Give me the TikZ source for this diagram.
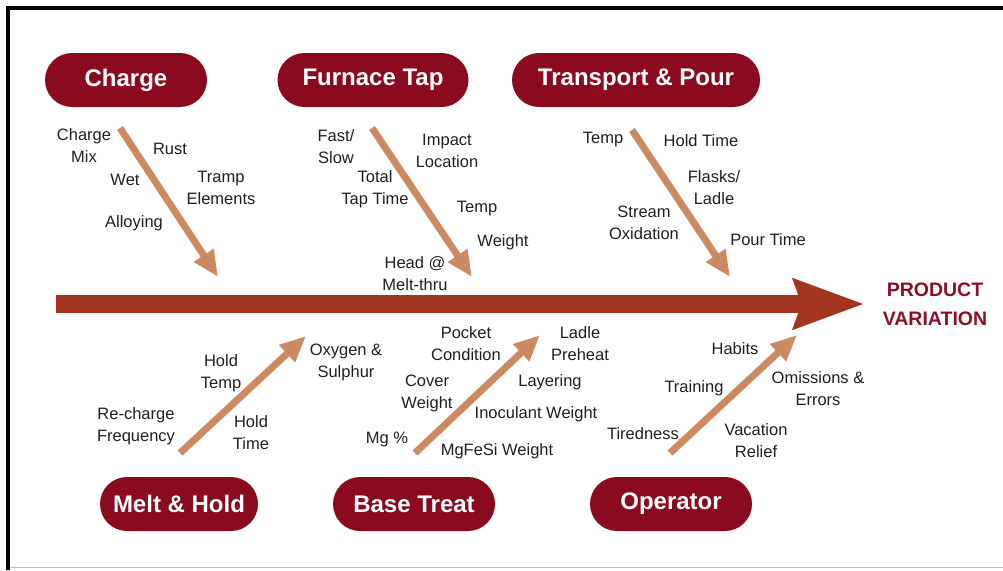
\documentclass[tikz,border=0pt]{standalone}
\usepackage{fontspec}
\setmainfont{Liberation Sans}
\usetikzlibrary{arrows.meta}
\definecolor{boxred}{HTML}{8A0A1E}
\definecolor{spinered}{HTML}{A2361F}
\definecolor{bonetan}{HTML}{CB8A62}
\definecolor{pvred}{HTML}{8E0F25}

\begin{document}
\begin{tikzpicture}[
      x=1pt, y=-1pt,
      font=\fontsize{16.5}{22}\selectfont,
      cat/.style={fill=boxred, text=white, rounded corners=27pt, minimum height=54pt, inner sep=0pt,
                  font=\fontsize{24}{28}\selectfont\bfseries},
      lbl/.style={align=center, inner sep=0pt, text=black!88},
      bone/.style={draw=bonetan, line width=7pt, -{Triangle[length=26pt,width=22pt]}},
      spine/.style={draw=spinered, line width=18pt, -{Stealth[length=70pt,width=48pt,inset=7pt]}}
    ]
    \useasboundingbox (0,0) rectangle (1003,570);
    \draw[line width=4pt] (8,570) -- (8,8) -- (1003,8);
    \draw[black!25, line width=0.8pt] (10,567) -- (1003,567);

    \node[cat, minimum width=162pt] (charge) at (126,80) {Charge};
    \node[cat, minimum width=191pt] (furnace) at (373,80) {Furnace Tap};
    \node[cat, minimum width=248pt] (transport) at (636,80) {Transport \& Pour};
    \node[cat, minimum width=158pt] (melt) at (179,504) {Melt \& Hold};
    \node[cat, minimum width=162pt] (base) at (414,504) {Base Treat};
    \node[cat, minimum width=162pt] (operator) at (671,504) {Operator};

    \node[align=center, inner sep=0pt, text=pvred, font=\fontsize{19.5}{29}\selectfont\bfseries]
      (pv) at (935,304) {PRODUCT\\VARIATION};
    \coordinate (tail) at (56,304);
    \draw[spine] (tail) -- ([xshift=-18pt]pv.west);

    \coordinate (charge-s) at (120,128);
    \coordinate (charge-e) at (218,277);
    \coordinate (furnace-s) at (372,128);
    \coordinate (furnace-e) at (472,277);
    \coordinate (transport-s) at (632,130);
    \coordinate (transport-e) at (730,277);
    \coordinate (melt-s) at (180,453);
    \coordinate (melt-e) at (306,336);
    \coordinate (base-s) at (415,453);
    \coordinate (base-e) at (540,335);
    \coordinate (operator-s) at (670,453);
    \coordinate (operator-e) at (797,335);
    \draw[bone] (charge-s) -- (charge-e);
    \draw[bone] (furnace-s) -- (furnace-e);
    \draw[bone] (transport-s) -- (transport-e);
    \draw[bone] (melt-s) -- (melt-e);
    \draw[bone] (base-s) -- (base-e);
    \draw[bone] (operator-s) -- (operator-e);

    \node[lbl] (mix) at (84,146) {Charge\\Mix};
    \node[lbl] (rust) at (170,149) {Rust};
    \node[lbl] (wet) at (125,180) {Wet};
    \node[lbl] (tramp) at (221,188) {Tramp\\Elements};
    \node[lbl] (alloy) at (134,223) {Alloying};

    \node[lbl] (fast) at (336,147) {Fast/\\Slow};
    \node[lbl] (impact) at (447,151) {Impact\\Location};
    \node[lbl] (taptime) at (375,189) {Total\\Tap Time};
    \node[lbl] (ftemp) at (477,209) {Temp};
    \node[lbl] (weight) at (503,242) {Weight};
    \node[lbl] (head) at (415,274) {Head @\\Melt-thru};

    \node[lbl] (ttemp) at (603,140) {Temp};
    \node[lbl] (holdtime) at (701,141) {Hold Time};
    \node[lbl] (flasks) at (714,188) {Flasks/\\Ladle};
    \node[lbl] (stream) at (644,223) {Stream\\Oxidation};
    \node[lbl] (pour) at (768,240) {Pour Time};

    \node[lbl] (holdtemp) at (221,373) {Hold\\Temp};
    \node[lbl] (recharge) at (136,426) {Re-charge\\Frequency};
    \node[lbl] (mholdtime) at (251,433) {Hold\\Time};
    \node[lbl] (oxygen) at (346,362) {Oxygen \&\\Sulphur};

    \node[lbl] (pocket) at (466,344) {Pocket\\Condition};
    \node[lbl] (preheat) at (580,344) {Ladle\\Preheat};
    \node[lbl] (cover) at (427,393) {Cover\\Weight};
    \node[lbl] (layering) at (550,382) {Layering};
    \node[lbl] (inoc) at (536,414) {Inoculant Weight};
    \node[lbl] (mg) at (387,439) {Mg \%};
    \node[lbl] (mgfesi) at (497,451) {MgFeSi Weight};

    \node[lbl] (habits) at (735,349) {Habits};
    \node[lbl] (training) at (694,388) {Training};
    \node[lbl] (omissions) at (818,389) {Omissions \&\\Errors};
    \node[lbl] (tired) at (643,434) {Tiredness};
    \node[lbl] (vacation) at (756,441) {Vacation\\Relief};
  \end{tikzpicture}
\end{document}
